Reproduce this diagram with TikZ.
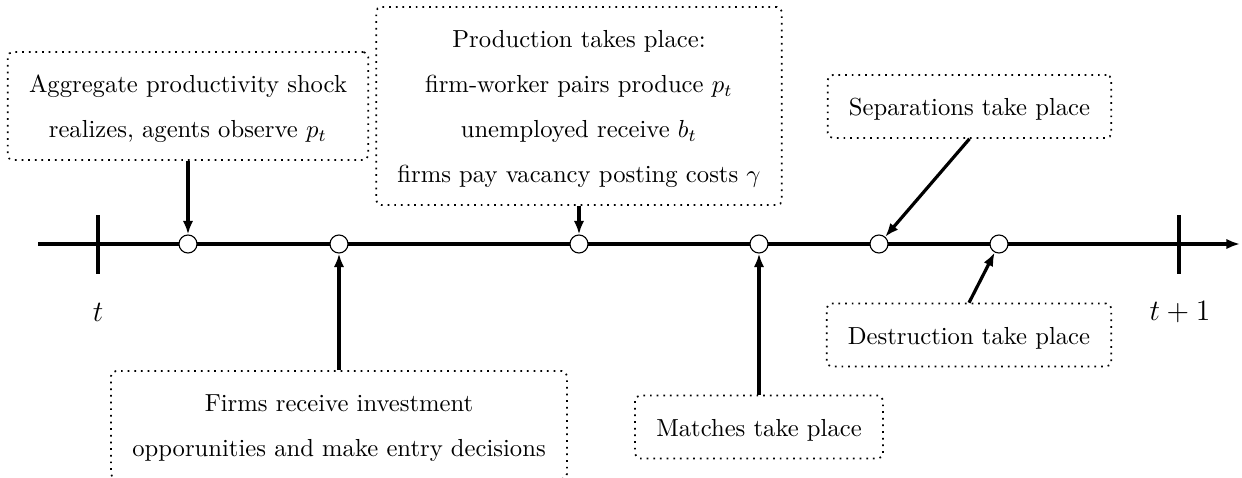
\documentclass[tikz,border=0pt]{standalone}
\usetikzlibrary{arrows.meta}
\begin{document}
\begin{tikzpicture}[x=0.4057pt,y=-0.4057pt,
  event/.style={draw,dotted,line width=0.7pt,rounded corners=2pt,align=center,
    inner xsep=8.6pt,inner ysep=3.6pt,font=\fontsize{10}{18.3}\selectfont},
  dot/.style={circle,draw,fill=white,inner sep=0pt,minimum size=7.3pt,line width=0.45pt},
  axisline/.style={line width=1.3pt},
  pointer/.style={line width=1.3pt,-{Latex[length=5.5pt,width=4.2pt]}},
  period/.style={font=\large}]

\useasboundingbox (0,0) rectangle (1242,478);
\clip (0,0) rectangle (1242,478);

% time axis with the two period ticks
\coordinate (start) at (38,244);
\coordinate (end) at (1240,244);
\draw[axisline,-{Latex[length=5.5pt,width=4.2pt]}] (start) -- (end);
\draw[axisline] (98,215) -- (98,274);
\draw[axisline] (1179,215) -- (1179,274);
\node[period] (tnow) at (98,312) {$t$};
\node[period] (tnext) at (1180,312) {$t+1$};

% events along the period
\node[dot] (e1) at (188,244) {};
\node[dot] (e2) at (339,244) {};
\node[dot] (e3) at (579,244) {};
\node[dot] (e4) at (759,244) {};
\node[dot] (e5) at (879,244) {};
\node[dot] (e6) at (999,244) {};

% descriptions
\node[event] (shock) at (188,106)
  {\strut Aggregate productivity shock\\\strut realizes, agents observe $p_t$};
\node[event] (prod) at (579,106)
  {\strut Production takes place:\\\strut firm-worker pairs produce $p_t$\\
   \strut unemployed receive $b_t$\\\strut firms pay vacancy posting costs $\gamma$};
\node[event] (sep) at (969.5,106.5) {\strut Separations take place};
\node[event] (dest) at (969,335) {\strut Destruction take place};
\node[event] (match) at (759,427) {\strut Matches take place};
\node[event] (entry) at (339,425)
  {\strut Firms receive investment\\\strut opporunities and make entry decisions};

% pointers from descriptions to events
\draw[pointer] (shock.south) -- (e1);
\draw[pointer] (prod.south) -- (e3);
\draw[pointer] (entry.north) -- (e2);
\draw[pointer] (match.north) -- (e4);
\draw[pointer] (sep.south) -- (e5);
\draw[pointer] (dest.north) -- (e6);
\end{tikzpicture}
\end{document}
